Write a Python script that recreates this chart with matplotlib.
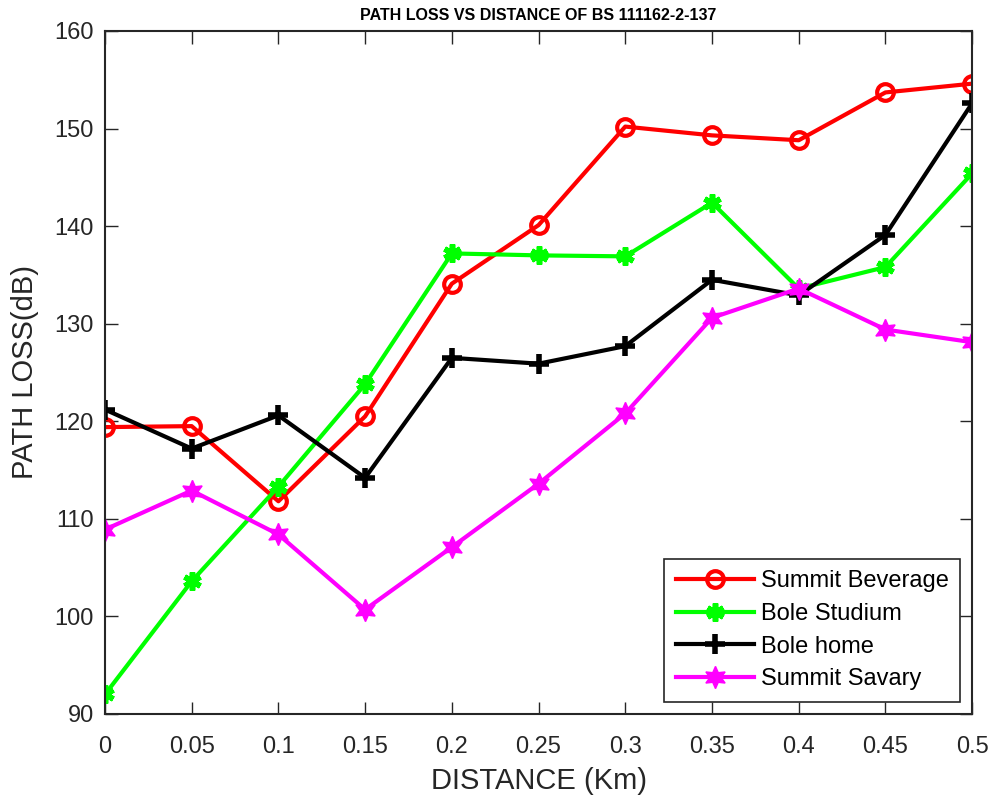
import numpy as np
import matplotlib
matplotlib.use("Agg")
import matplotlib.pyplot as plt
from matplotlib.ticker import FuncFormatter

# distance (Km) and measured path loss (dB) at each point
distance = [0, 0.05, 0.1, 0.15, 0.2, 0.25, 0.3, 0.35, 0.4, 0.45, 0.5]

summit_beverage = [119.4, 119.5, 111.8, 120.5, 134.1, 140.1, 150.2, 149.3, 148.8, 153.7, 154.6]
bole_studium = [92.0, 103.6, 113.3, 123.8, 137.2, 137.0, 136.9, 142.4, 133.6, 135.8, 145.4]
bole_home = [121.2, 117.2, 120.6, 114.2, 126.5, 125.9, 127.7, 134.5, 132.9, 139.1, 152.6]
summit_savary = [108.9, 112.9, 108.4, 100.7, 107.1, 113.6, 120.8, 130.6, 133.6, 129.4, 128.1]

labels = ["Summit Beverage", "Bole Studium", "Bole home", "Summit Savary"]

plt.rcParams['font.family'] = ['Liberation Sans', 'DejaVu Sans']

fig = plt.figure(figsize=(9.92, 7.98), dpi=100)
ax = fig.add_axes([0.1058, 0.1053, 0.8742, 0.8559])

axc = '#262626'
ax.plot(distance, summit_beverage, color='red', lw=3, marker='o', ms=12,
        mfc='none', mew=3, label=labels[0])
ax.plot(distance, bole_studium, color='#00ff00', lw=3, marker=(6, 2, 0), ms=13,
        mew=4, label=labels[1])
ax.plot(distance, bole_home, color='black', lw=3, marker='+', ms=15,
        mew=4, label=labels[2])
ax.plot(distance, summit_savary, color='magenta', lw=3, marker=(6, 1, 0), ms=16,
        label=labels[3])

ax.set_xlim(0, 0.5)
ax.set_ylim(90, 160)
ax.set_xticks(np.arange(0, 0.51, 0.05))
ax.set_yticks(np.arange(90, 161, 10))
ax.xaxis.set_major_formatter(FuncFormatter(lambda v, p: '%g' % round(v, 2)))

ax.tick_params(direction='in', length=9, width=1, top=True, right=True,
               labelsize=17, colors=axc, pad=8)
ax.tick_params(axis='x', pad=16)
for s in ax.spines.values():
    s.set_color(axc)
    s.set_linewidth(1.5)

ax.set_xlabel('DISTANCE (Km)', fontsize=21, color=axc, labelpad=6)
ax.set_ylabel('PATH LOSS(dB)', fontsize=21, color=axc, labelpad=11)
ax.set_title('PATH LOSS VS DISTANCE OF BS 111162-2-137', fontsize=11.5,
             fontweight='bold', pad=8)

leg = ax.legend(loc='lower right', fontsize=17, fancybox=False, framealpha=1,
                edgecolor=axc, handlelength=3.3, borderaxespad=0.5,
                labelspacing=0.45, handletextpad=0.3, borderpad=0.5)
leg.get_frame().set_linewidth(1.2)

fig.savefig('out.png', dpi=100)
